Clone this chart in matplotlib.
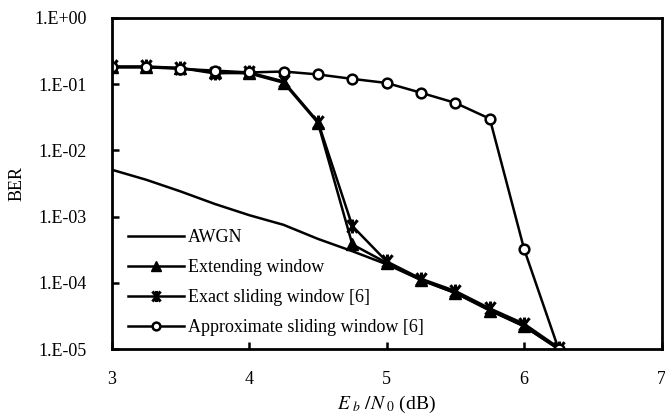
import numpy as np
import matplotlib.pyplot as plt
from matplotlib.path import Path
from matplotlib.ticker import FixedLocator, FuncFormatter

plt.rcParams['font.family'] = ['Liberation Serif', 'DejaVu Serif']
plt.rcParams['mathtext.fontset'] = 'stix'

ebn0 = [3.0, 3.25, 3.5, 3.75, 4.0, 4.25, 4.5, 4.75, 5.0, 5.25, 5.5, 5.75, 6.0, 6.25]

awgn = [5.1e-3, 3.6e-3, 2.4e-3, 1.55e-3, 1.05e-3, 7.5e-4, 4.6e-4, 3.0e-4,
        1.9e-4, 1.1e-4, 7.0e-5, 3.9e-5, 2.2e-5, 1.0e-5]
extending = [0.18, 0.18, 0.175, 0.15, 0.145, 0.105, 0.026, 3.8e-4,
             2.0e-4, 1.1e-4, 7.0e-5, 3.8e-5, 2.2e-5, 1.0e-5]
exact = [0.185, 0.185, 0.175, 0.145, 0.15, 0.11, 0.027, 7.2e-4,
         2.1e-4, 1.15e-4, 7.5e-5, 4.1e-5, 2.4e-5, 1.05e-5]
approx = [0.18, 0.18, 0.17, 0.16, 0.15, 0.155, 0.14, 0.12,
          0.104, 0.074, 0.052, 0.030, 3.2e-4, 1.0e-5]

# x with a vertical bar through it
star = Path([(-0.8, -1), (0.8, 1), (-0.8, 1), (0.8, -1), (0, -1.1), (0, 1.1)],
            [Path.MOVETO, Path.LINETO, Path.MOVETO, Path.LINETO, Path.MOVETO, Path.LINETO])

fig = plt.figure(figsize=(6.65, 4.16), dpi=100)
ax = fig.add_axes([0.168, 0.161, 0.827, 0.796])

ax.plot(ebn0, awgn, 'k-', lw=1.8, label='AWGN')
ax.plot(ebn0, extending, 'k-', lw=1.8, marker='^', ms=9, mfc='k', label='Extending window')
ax.plot(ebn0, exact, 'k-', lw=1.8, marker=star, ms=10, mew=2.2, label='Exact sliding window [6]')
ax.plot(ebn0, approx, 'k-', lw=1.8, marker='o', ms=7, mfc='white', mew=1.8,
        label='Approximate sliding window [6]')

ax.set_yscale('log')
ax.set_xlim(3, 7)
ax.set_ylim(1e-5, 1)
ax.yaxis.set_major_locator(FixedLocator([1e-5, 1e-4, 1e-3, 1e-2, 1e-1, 1]))
ax.yaxis.set_minor_locator(FixedLocator([]))
ax.yaxis.set_major_formatter(FuncFormatter(lambda v, p: '1.E%+03d' % int(round(np.log10(v)))))
ax.set_xticks([3, 4, 5, 6, 7])

for s in ax.spines.values():
    s.set_linewidth(2)
ax.tick_params(axis='both', direction='in', length=5, width=1.8, labelsize=13)
ax.tick_params(axis='x', pad=16)
ax.tick_params(axis='y', pad=18)

ax.set_ylabel('BER', fontsize=13, labelpad=6)
ax.set_xlabel(r'$E_{\ b}\ /N_{\ 0}$ (dB)', fontsize=14, labelpad=4)

ax.legend(loc='lower left', bbox_to_anchor=(0.0, -0.01), frameon=False, fontsize=13,
          handlelength=3.1, labelspacing=0.72, handletextpad=0.2, markerscale=0.8)

fig.savefig('out.png', dpi=100)
